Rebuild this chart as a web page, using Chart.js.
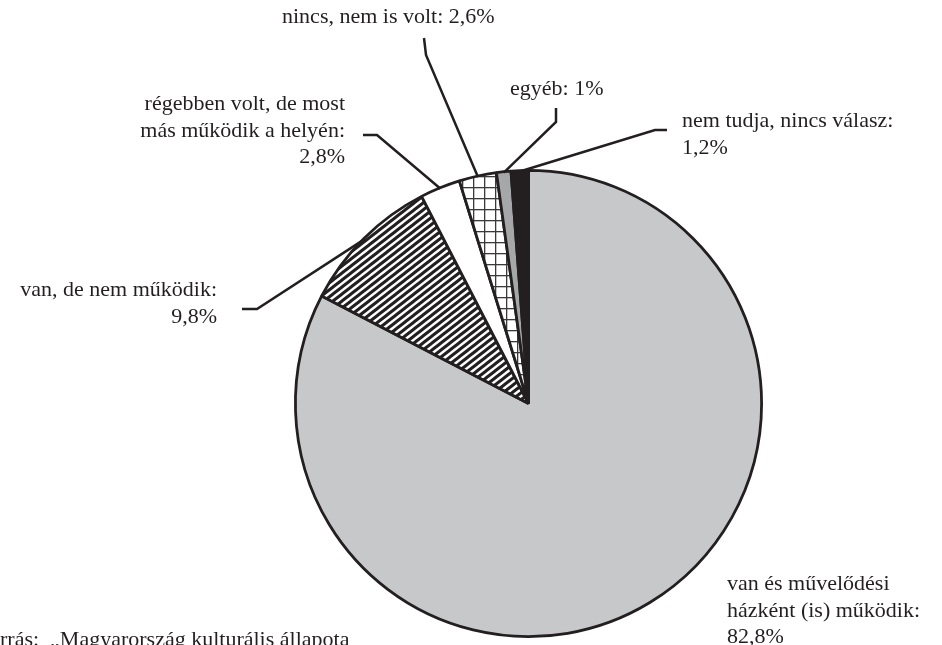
<!DOCTYPE html>
<html>
<head>
<meta charset="utf-8">
<script src="https://cdn.jsdelivr.net/npm/chart.js"></script>
<style>
  html, body { margin: 0; padding: 0; background: #fff; }
  #wrap { width: 942px; height: 645px; position: relative; }
</style>
</head>
<body>
<div id="wrap"><canvas id="pie"></canvas></div>
<script>
// data (clockwise from 12 o'clock)
const categories = [
  "van és művelődési házként (is) működik",
  "van, de nem működik",
  "régebben volt, de most más működik a helyén",
  "nincs, nem is volt",
  "egyéb",
  "nem tudja, nincs válasz"
];
const shares = [82.8, 9.8, 2.8, 2.6, 1, 1.2];
const shareLabels = ["82,8%", "9,8%", "2,8%", "2,6%", "1%", "1,2%"];

// how each label is broken into lines
const labelLines = [
  ["van és művelődési", "házként (is) működik:", shareLabels[0]],
  ["van, de nem működik:", shareLabels[1]],
  ["régebben volt, de most", "más működik a helyén:", shareLabels[2]],
  [categories[3] + ": " + shareLabels[3]],
  [categories[4] + ": " + shareLabels[4]],
  [categories[5] + ":", shareLabels[5]]
];

const FONT = '22px "Liberation Serif", "Times New Roman", serif';

// label anchor + leader line bends (layout only)
const labelPos = [
  { x: 727, y: 590, align: "left", bend: null },
  { x: 217, y: 296, align: "right", bend: [[242, 309], [257, 309]] },
  { x: 345, y: 110, align: "right", bend: [[363, 135], [377, 135]] },
  { x: 282, y: 23, align: "left", bend: [[424, 38], [426, 55]] },
  { x: 510, y: 95, align: "left", bend: [[556, 108], [556, 122]] },
  { x: 682, y: 127, align: "left", bend: [[667, 130], [655, 130]] }
];

function stripes() {
  const W = 9, H = 7;
  const c = document.createElement("canvas");
  c.width = W; c.height = H;
  const g = c.getContext("2d");
  g.fillStyle = "#fff";
  g.fillRect(0, 0, W, H);
  g.strokeStyle = "#231f20";
  g.lineWidth = 3;
  g.beginPath();
  for (let k = -1; k <= 1; k++) {
    g.moveTo(-1, H * (k + 1) + H / W);
    g.lineTo(W + 1, H * k - H / W);
  }
  g.stroke();
  return g.createPattern(c, "repeat");
}

function grid() {
  const s = 11;
  const c = document.createElement("canvas");
  c.width = s; c.height = s;
  const g = c.getContext("2d");
  g.fillStyle = "#fff";
  g.fillRect(0, 0, s, s);
  g.fillStyle = "#3a3a3a";
  g.fillRect(0, 0, s, 1.3);
  g.fillRect(0, 0, 1.3, s);
  return g.createPattern(c, "repeat");
}

const fills = ["#c7c8ca", stripes(), "#ffffff", grid(), "#a6a7a9", "#231f20"];

const labelsPlugin = {
  id: "leaders",
  afterDraw(chart) {
    const ctx = chart.ctx;
    const arcs = chart.getDatasetMeta(0).data;
    ctx.save();
    ctx.strokeStyle = "#231f20";
    ctx.lineWidth = 2.5;
    arcs.forEach((arc, i) => {
      const p = labelPos[i];
      if (!p.bend) return;
      const { x, y, startAngle, endAngle, outerRadius } =
        arc.getProps(["x", "y", "startAngle", "endAngle", "outerRadius"], true);
      const mid = (startAngle + endAngle) / 2;
      const r = outerRadius - 1;
      ctx.beginPath();
      ctx.moveTo(p.bend[0][0], p.bend[0][1]);
      ctx.lineTo(p.bend[1][0], p.bend[1][1]);
      ctx.lineTo(x + Math.cos(mid) * r, y + Math.sin(mid) * r);
      ctx.stroke();
    });
    ctx.fillStyle = "#231f20";
    ctx.font = FONT;
    ctx.textBaseline = "alphabetic";
    labelLines.forEach((lines, i) => {
      const p = labelPos[i];
      ctx.textAlign = p.align;
      lines.forEach((t, j) => ctx.fillText(t, p.x, p.y + j * 26.5));
    });
    // source line, cut off at the left edge like the original
    ctx.textAlign = "left";
    const off = ctx.measureText("Fo").width;
    ctx.fillText("Forrás:  „Magyarország kulturális állapota", -off, 646);
    ctx.restore();
  }
};

new Chart(document.getElementById("pie"), {
  type: "pie",
  data: {
    labels: categories,
    datasets: [{
      data: shares,
      backgroundColor: fills,
      borderColor: "#231f20",
      borderWidth: 2.8
    }]
  },
  options: {
    responsive: true,
    maintainAspectRatio: false,
    animation: false,
    layout: { padding: { left: 294, right: 179, top: 169, bottom: 7 } },
    plugins: {
      legend: { display: false },
      tooltip: { enabled: false }
    }
  },
  plugins: [labelsPlugin]
});
</script>
</body>
</html>
